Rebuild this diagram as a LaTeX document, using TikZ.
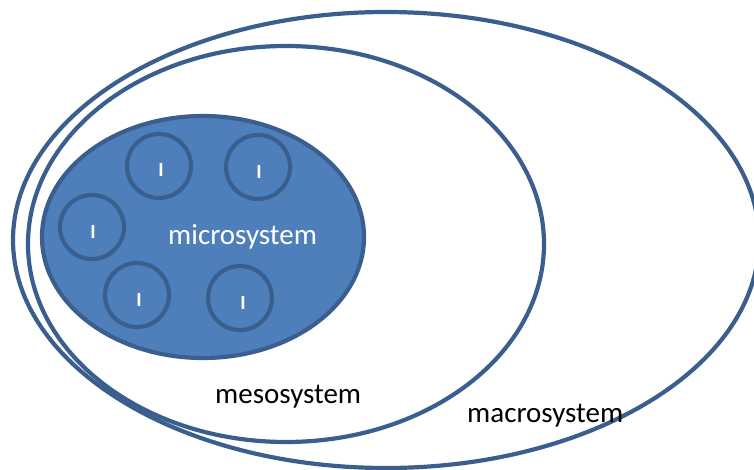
\documentclass[tikz,border=0pt]{standalone}
\usepackage{fontspec}
\setmainfont{Carlito}
\usetikzlibrary{shapes.geometric}
\definecolor{lineblue}{HTML}{3A5F8E}
\definecolor{fillblue}{HTML}{4F7FBB}
\tikzset{
  ring/.style={draw=lineblue, line width=4.2pt, ellipse, inner sep=0pt},
  cell/.style={draw=lineblue, line width=4.2pt, circle, minimum size=64pt, inner sep=0pt},
  tick/.style={text=white, font=\fontsize{20}{20}\bfseries, inner sep=0pt},
  lbl/.style={font=\fontsize{29}{34}\selectfont, inner sep=0pt, anchor=base west}
}
\begin{document}
\begin{tikzpicture}[x=1pt,y=-1pt]
\useasboundingbox (0,0) rectangle (754,470);
\node[ring, minimum width=746pt, minimum height=456pt] (macro) at (386,240) {};
\node[ring, minimum width=516pt, minimum height=396pt] (meso) at (286,244) {};
\node[ring, fill=fillblue, minimum width=322pt, minimum height=242pt] (micro) at (203,237) {};
\node[cell] (c1) at (159,166) {};
\node[cell] (c2) at (258,167) {};
\node[cell] (c3) at (92,227) {};
\node[cell] (c4) at (137,295) {};
\node[cell] (c5) at (240,298) {};
\node[tick] (m1) at (161,170) {I};
\node[tick] (m2) at (259,172) {I};
\node[tick] (m3) at (93,232) {I};
\node[tick] (m4) at (139,300) {I};
\node[tick] (m5) at (243,303) {I};
\node[lbl, text=white] (tmicro) at (168,244) {microsystem};
\node[lbl] (tmeso) at (215,403) {mesosystem};
\node[lbl] (tmacro) at (467,422) {macrosystem};
\end{tikzpicture}
\end{document}
